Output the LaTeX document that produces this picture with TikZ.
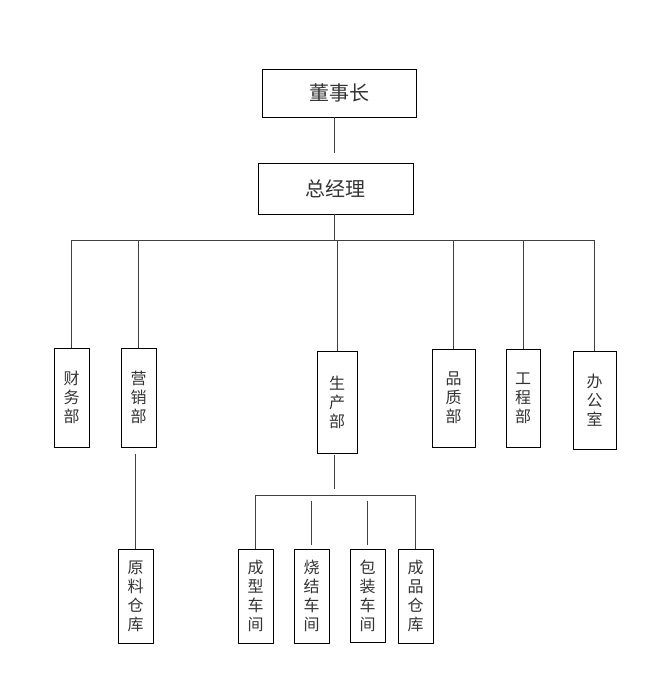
\documentclass[tikz,border=0pt]{standalone}
\usepackage{fontspec}
\newfontfamily\cjk{Noto Sans CJK SC}
\usetikzlibrary{positioning}

\begin{document}
\begin{tikzpicture}[x=1pt,y=-1pt,
  box/.style={draw,inner sep=0pt,line width=0.8pt,text=black!80},
  hbox/.style={box,minimum width=154pt,minimum height=48pt,font=\cjk\fontsize{20}{24}\selectfont},
  vbox/.style={box,minimum width=35pt,minimum height=99pt,align=center,font=\cjk\fontsize{16}{19}\selectfont},
  link/.style={draw=black!75,line width=0.9pt}]
  \useasboundingbox (0,0) rectangle (668,674);

  \node[hbox] (dsz) at (339,93) {董事长};                                          % top
  \node[hbox,minimum width=155pt,minimum height=51pt] (zjl) at (335.5,188.5) {总经理}; % manager

  % departments
  \node[vbox] (cw) at (71.5,397.5) {财\\务\\部};
  \node[vbox] (yx) at (138.5,397.5) {营\\销\\部};
  \node[vbox,minimum width=40pt,minimum height=102pt] (sc) at (337,402) {生\\产\\部};
  \node[vbox,minimum width=43pt,minimum height=98pt] (pz) at (453.5,398) {品\\质\\部};
  \node[vbox,minimum width=34pt,minimum height=98pt] (gc) at (523,398) {工\\程\\部};
  \node[vbox,minimum width=43pt,minimum height=98pt] (bgs) at (594.5,400) {办\\公\\室};

  % bottom row
  \node[vbox,minimum height=94pt] (yl) at (135.5,596) {原\\料\\仓\\库};
  \node[vbox,minimum height=94pt] (cx) at (255.5,596) {成\\型\\车\\间};
  \node[vbox,minimum height=94pt] (sj) at (311.5,596) {烧\\结\\车\\间};
  \node[vbox,minimum height=93pt] (bz) at (367.5,595.5) {包\\装\\车\\间};
  \node[vbox,minimum height=94pt] (cp) at (415.5,596) {成\\品\\仓\\库};

  \coordinate (bar1) at (334,240);  % main bar
  \coordinate (bar2) at (334,495);  % workshop bar

  \draw[link] (dsz.south -| bar1) -- ++(0,36);          % gap above manager
  \draw[link] (zjl.south -| bar1) -- (bar1);
  \draw[link] (cw.north |- bar1) -- (bgs.north |- bar1);
  \foreach \d in {cw,yx,sc,pz,gc,bgs}
    \draw[link] (\d.north) -- (\d.north |- bar1);

  \draw[link] ([yshift=-7pt]yx.south -| yl) -- (yl.north);
  \draw[link] ([yshift=-2pt]sc.south -| bar2) -- ++(0,34);
  \draw[link] (cx.north) -- (cx.north |- bar2) -- (cp.north |- bar2) -- (cp.north);
  \draw[link] ([yshift=4pt]sj.north) -- ++(0,-44);     % loose ends
  \draw[link] ([yshift=4pt]bz.north) -- ++(0,-44);
\end{tikzpicture}
\end{document}
